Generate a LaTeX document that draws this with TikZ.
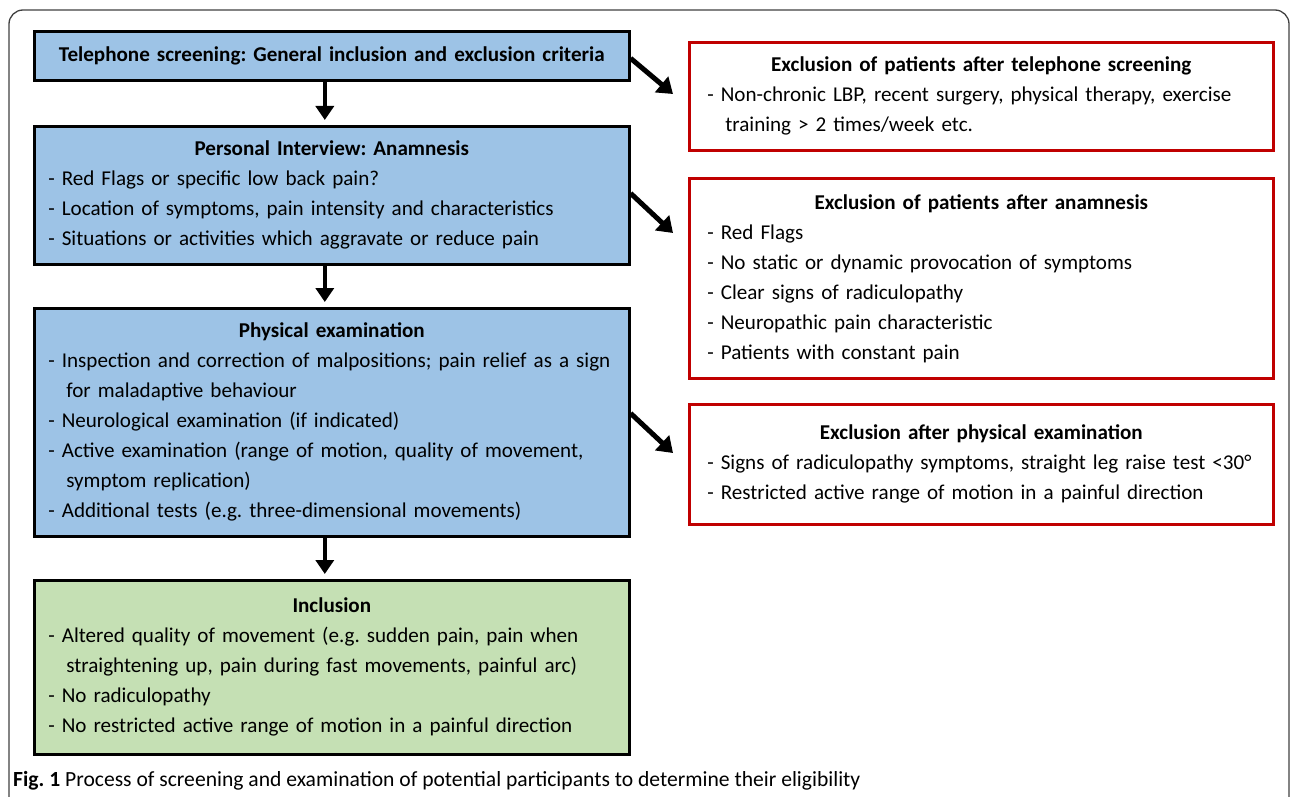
\documentclass[tikz,border=0pt]{standalone}
\usepackage{fontspec}
\setmainfont{Carlito}
\usetikzlibrary{arrows.meta}
\definecolor{boxblue}{RGB}{157,195,230}
\definecolor{boxgreen}{RGB}{197,224,180}
\definecolor{exred}{RGB}{192,0,0}
\newcommand{\boxhead}[1]{{\centering\bfseries #1\par}}
\newcommand{\cont}{\hspace*{18pt}}
\frenchspacing
\begin{document}
\begin{tikzpicture}[x=1pt,y=-1pt,
    flowbox/.style={draw=black,line width=2.6pt,anchor=north west,inner xsep=14pt,inner ysep=0pt,
      text width=567pt,minimum width=595pt,font=\fontsize{21.1}{30}\selectfont,
      execute at begin node=\setlength{\parindent}{0pt}},
    bluebox/.style={flowbox,fill=boxblue},
    greenbox/.style={flowbox,fill=boxgreen},
    exbox/.style={draw=exred,fill=white,line width=2.6pt,anchor=north west,inner xsep=18pt,inner ysep=0pt,
      text width=548pt,minimum width=584pt,font=\fontsize{21.1}{30}\selectfont,
      execute at begin node=\setlength{\parindent}{0pt}},
    flowarrow/.style={line width=4.5pt,-{Triangle[width=18pt,length=14pt]},shorten >=5pt},
    sidearrow/.style={line width=5pt,-{Triangle[width=20pt,length=15pt]}}]
  \useasboundingbox (0,0) rectangle (1290,797);
  \draw[line width=1.3pt,black!75,rounded corners=14pt] (9,820) -- (9,10) -- (1289,10) -- (1289,820);

  % left column
  \node[bluebox,minimum height=49pt] (tel) at (33,30) {\boxhead{Telephone screening: General inclusion and exclusion criteria}};
  \node[bluebox,minimum height=138pt] (interview) at (33,125) {\boxhead{Personal Interview: Anamnesis}
    - Red Flags or specific low back pain?\par
    - Location of symptoms, pain intensity and characteristics\par
    - Situations or activities which aggravate or reduce pain};
  \node[bluebox,minimum height=228pt] (physical) at (33,307) {\boxhead{Physical examination}
    - Inspection and correction of malpositions; pain relief as a sign\par
    \cont for maladaptive behaviour\par
    - Neurological examination (if indicated)\par
    - Active examination (range of motion, quality of movement,\par
    \cont symptom replication)\par
    - Additional tests (e.g. three-dimensional movements)};
  \node[greenbox,minimum height=174pt] (inclusion) at (33,579) {\boxhead{Inclusion}
    - Altered quality of movement (e.g. sudden pain, pain when\par
    \cont straightening up, pain during fast movements, painful arc)\par
    - No radiculopathy\par
    - No restricted active range of motion in a painful direction};

  % right column
  \node[exbox,minimum height=108pt] (exTel) at (688,41) {\boxhead{Exclusion of patients after telephone screening}
    - Non-chronic LBP, recent surgery, physical therapy, exercise\par
    \cont training > 2 times/week etc.};
  \node[exbox,minimum height=200pt] (exAnam) at (688,177) {\boxhead{Exclusion of patients after anamnesis}
    - Red Flags\par
    - No static or dynamic provocation of symptoms\par
    - Clear signs of radiculopathy\par
    - Neuropathic pain characteristic\par
    - Patients with constant pain};
  \node[exbox,minimum height=120pt] (exPhys) at (688,403) {\boxhead{Exclusion after physical examination}
    - Signs of radiculopathy symptoms, straight leg raise test <30°\par
    - Restricted active range of motion in a painful direction};

  \draw[flowarrow] ([xshift=-7pt]tel.south) -- ([xshift=-7pt]interview.north);
  \draw[flowarrow] ([xshift=-7pt]interview.south) -- ([xshift=-7pt]physical.north);
  \draw[flowarrow] ([xshift=-7pt]physical.south) -- ([xshift=-7pt]inclusion.north);

  \coordinate (tipA) at (673,94);
  \coordinate (tipB) at (673,233);
  \coordinate (tipC) at (673,453);
  \draw[sidearrow] ([yshift=-2.5pt]tel.east) -- (tipA);
  \draw[sidearrow] ([yshift=2pt]interview.east) -- (tipB);
  \draw[sidearrow] ([yshift=9pt]physical.east) -- (tipC);

  \node[anchor=west,inner sep=0pt,font=\fontsize{21.6}{24}\selectfont] (caption) at (13,781)
    {\textbf{Fig. 1} Process of screening and examination of potential participants to determine their eligibility};
\end{tikzpicture}
\end{document}
